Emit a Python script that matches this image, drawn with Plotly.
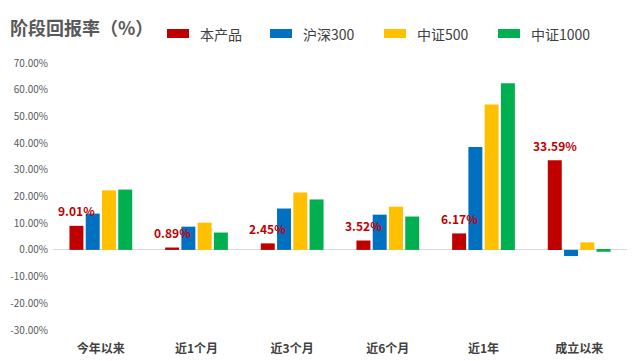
import plotly.graph_objects as go

categories = ["今年以来", "近1个月", "近3个月", "近6个月", "近1年", "成立以来"]
product = [9.01, 0.89, 2.45, 3.52, 6.17, 33.59]
hs300 = [13.6, 8.7, 15.5, 13.2, 38.5, -2.3]
zz500 = [22.3, 10.2, 21.5, 16.2, 54.5, 2.8]
zz1000 = [22.6, 6.5, 18.9, 12.5, 62.4, -0.7]
series_names = ["本产品", "沪深300", "中证500", "中证1000"]
colors = ["#C00000", "#0070C0", "#FFC000", "#00B050"]
yticks = [70, 60, 50, 40, 30, 20, 10, 0, -10, -20, -30]
ytick_labels = [f"{v:.2f}%" for v in yticks]

# page body has an 8px margin; lay the figure out in window pixels minus that offset
OFF = 8
W, H = 640 - OFF, 361 - OFF
plot_left, plot_right, plot_top, plot_bottom = 53, 627, 63, 330  # window px
ml = plot_left - OFF
mr = 640 - plot_right
mt = plot_top - OFF
mb = 361 - plot_bottom
bargap = 0.32
bargroupgap = 0.14

font_family = "Noto Sans CJK SC, Microsoft YaHei, sans-serif"

fig = go.Figure()
for name, vals, c in zip(series_names, [product, hs300, zz500, zz1000], colors):
    fig.add_trace(go.Bar(x=categories, y=vals, name=name, marker_color=c,
                         marker_line_width=0, hoverinfo="skip", showlegend=False))

plot_w = plot_right - plot_left
plot_h = plot_bottom - plot_top
cat_w = plot_w / len(categories)
group_w = cat_w * (1 - bargap)
slot = group_w / 4
red_shift = -group_w / 2 + slot / 2


def px_x(px):
    return (px - plot_left) / plot_w


def px_y(py):
    return 1 - (py - plot_top) / plot_h


for cat, v in zip(categories, product):
    fig.add_annotation(x=cat, y=v, text=f"{v:.2f}%", showarrow=False,
                       xref="x", yref="y", xshift=red_shift, yshift=15,
                       font=dict(family=font_family, size=12, color="#C00000", weight="bold"))

fig.add_annotation(text="阶段回报率（%）", xref="paper", yref="paper",
                   x=px_x(8), y=px_y(27),
                   xanchor="left", yanchor="middle", showarrow=False,
                   font=dict(family=font_family, size=18, color="#595959", weight="bold"))

# manual legend
legend_x = [167, 270, 384, 498]
for name, c, lx in zip(series_names, colors, legend_x):
    fig.add_shape(type="rect", xref="paper", yref="paper",
                  x0=px_x(lx), x1=px_x(lx + 22), y0=px_y(38), y1=px_y(29),
                  fillcolor=c, line_width=0)
    fig.add_annotation(text=name, xref="paper", yref="paper",
                       x=px_x(lx + 31), y=px_y(33.5), xanchor="left", yanchor="middle",
                       showarrow=False,
                       font=dict(family=font_family, size=14, color="#404040"))

fig.update_layout(
    width=W, height=H,
    margin=dict(l=ml, r=mr, t=mt, b=mb, autoexpand=False),
    paper_bgcolor="white", plot_bgcolor="white",
    barmode="group", bargap=bargap, bargroupgap=bargroupgap,
    font=dict(family=font_family, color="#595959"),
    showlegend=False,
    xaxis=dict(showline=False, showgrid=False, ticks="", automargin=False,
               ticklabelstandoff=10,
               tickfont=dict(family=font_family, size=12, color="#404040", weight="bold")),
    yaxis=dict(range=[-30, 70], tickvals=yticks, ticktext=ytick_labels, automargin=False,
               showgrid=False, zeroline=True, zerolinecolor="#D9D9D9", zerolinewidth=1,
               showline=False, ticks="", ticklabelstandoff=4,
               tickfont=dict(family=font_family, size=10, color="#595959")),
)

fig.write_html("out.html")
